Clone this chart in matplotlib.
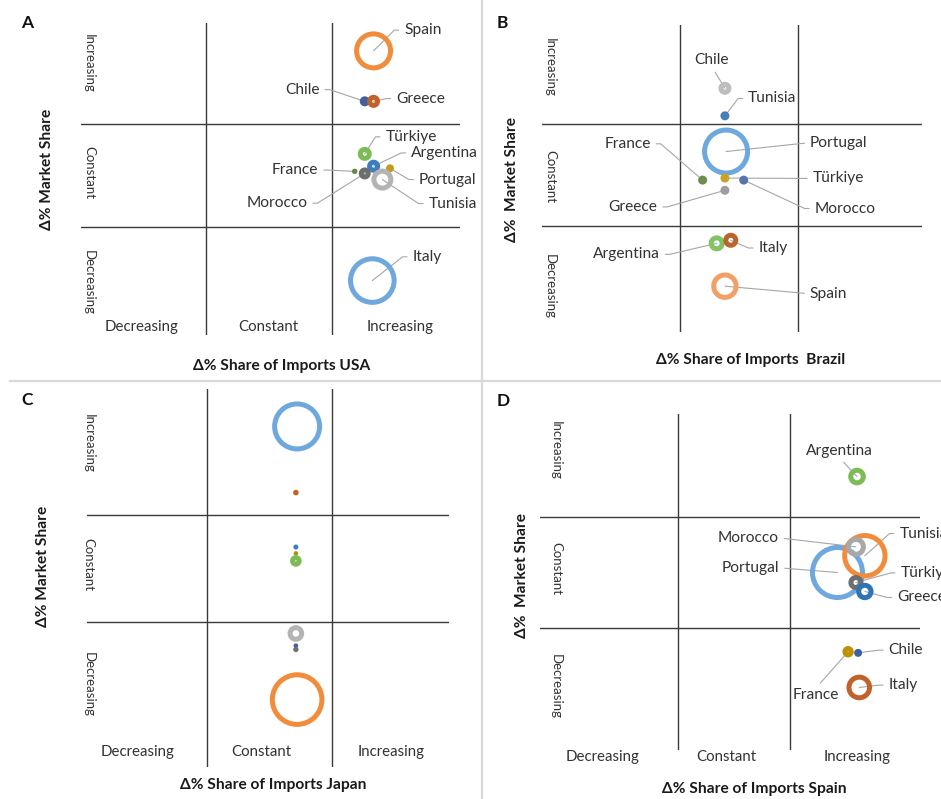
import math
import matplotlib
matplotlib.use('Agg')
import matplotlib.pyplot as plt

plt.rcParams['font.family'] = ['Lato', 'DejaVu Sans']

W, H = 941, 799

# ---------------- data (quadrant units: 0-1 decreasing, 1-2 constant, 2-3 increasing) ----------------
quad_labels = ['Decreasing', 'Constant', 'Increasing']

# Panel A – USA
usa_countries = ['Spain', 'Chile', 'Greece', 'Türkiye', 'Argentina', 'France', 'Morocco', 'Portugal', 'Tunisia', 'Italy']
usa_x = [2.33, 2.26, 2.33, 2.26, 2.33, 2.18, 2.26, 2.46, 2.40, 2.32]
usa_y = [2.71, 2.22, 2.22, 1.71, 1.59, 1.54, 1.52, 1.57, 1.46, 0.48]
usa_size = [19.5, 5.0, 6.5, 7.0, 6.5, 2.7, 6.0, 4.0, 11.0, 24.3]

# Panel B – Brazil
bra_countries = ['Chile', 'Tunisia', 'Portugal', 'France', 'Greece', 'Morocco', 'Türkiye', 'Argentina', 'Italy', 'Spain']
bra_x = [1.38, 1.38, 1.39, 1.19, 1.38, 1.54, 1.38, 1.31, 1.43, 1.38]
bra_y = [2.35, 2.08, 1.73, 1.45, 1.35, 1.45, 1.47, 0.83, 0.86, 0.41]
bra_size = [6.5, 4.5, 24.0, 4.5, 4.5, 4.5, 4.5, 8.0, 7.5, 13.7]

# Panel C – Japan (no data labels in the original)
jpn_countries = ['Italy', 'Greece', 'Argentina', 'Portugal', 'Türkiye', 'Tunisia', 'Chile', 'Morocco', 'Spain']
jpn_x = [1.72, 1.71, 1.71, 1.71, 1.71, 1.71, 1.71, 1.71, 1.72]
jpn_y = [2.83, 2.21, 1.70, 1.64, 1.57, 0.89, 0.775, 0.74, 0.27]
jpn_size = [25.0, 2.8, 2.5, 2.3, 5.8, 8.3, 2.3, 2.7, 27.3]

# Panel D – Spain
esp_countries = ['Argentina', 'Portugal', 'Tunisia', 'Morocco', 'Türkiye', 'Greece', 'France', 'Chile', 'Italy']
esp_x = [2.60, 2.425, 2.67, 2.59, 2.59, 2.67, 2.52, 2.61, 2.62]
esp_y = [2.36, 1.50, 1.65, 1.73, 1.41, 1.33, 0.79, 0.78, 0.47]
esp_size = [8.8, 27.5, 22.7, 10.0, 7.5, 8.7, 5.7, 4.0, 12.8]

# ---------------- styles ----------------
LBLUE, ORANGE, LGRAY = '#6FA8DC', '#F08C3C', '#B4B4B4'
colors = {
    'A': {'Spain': ORANGE, 'Chile': '#44609C', 'Greece': '#C0622A', 'Türkiye': '#7DBB55',
          'Argentina': '#3A7DC0', 'France': '#5F8A3F', 'Morocco': '#6E6E6E', 'Portugal': '#C49A1C',
          'Tunisia': LGRAY, 'Italy': LBLUE},
    'B': {'Chile': '#BDBDBD', 'Tunisia': '#4A7EBB', 'Portugal': LBLUE, 'France': '#6B8E4E',
          'Greece': '#9E9E9E', 'Morocco': '#5A73A8', 'Türkiye': '#C9A227', 'Argentina': '#85C165',
          'Italy': '#B8652E', 'Spain': '#F2A066'},
    'C': {'Italy': LBLUE, 'Greece': '#C0622A', 'Argentina': '#3A7DC0', 'Portugal': '#B8900F',
          'Türkiye': '#7DBB55', 'Tunisia': LGRAY, 'Chile': '#3F5F9E', 'Morocco': '#707070', 'Spain': ORANGE},
    'D': {'Argentina': '#7DBB55', 'Portugal': LBLUE, 'Tunisia': ORANGE, 'Morocco': '#A8A8A8',
          'Türkiye': '#6E6E6E', 'Greece': '#2E75B6', 'France': '#BF9000', 'Chile': '#3F5F9E', 'Italy': '#C0622A'},
}

# label layout: offset of text anchor from bubble (pixels, y up), alignment, leader style
label_layout = {
    'A': {'Spain': (30.7, 20.7, 'left', 'e'), 'Chile': (-45.3, 11.7, 'right', 'e'),
          'Greece': (22.7, 2.7, 'left', 'e'), 'Türkiye': (20.7, 17, 'left', 'e'),
          'Argentina': (37.7, 13.3, 'left', 'e'), 'France': (-36.3, 1.3, 'right', 'e'),
          'Morocco': (-57.3, -29.7, 'right', 'e'), 'Portugal': (29, -11.3, 'left', 'e'),
          'Tunisia': (46.3, -24, 'left', 'e'), 'Italy': (40.3, 23.7, 'left', 'e')},
    'B': {'Chile': (-13, 28.3, 'center', 'b'), 'Tunisia': (23.3, 17.4, 'left', 'e'),
          'Portugal': (84, 9, 'left', 's'), 'France': (-52, 36.3, 'right', 'e'),
          'Greece': (-67.7, -16.6, 'right', 'e'), 'Morocco': (71, -28.4, 'left', 'e'),
          'Türkiye': (87.7, -0.4, 'left', 's'), 'Argentina': (-57, -11, 'right', 'e'),
          'Italy': (27.6, -7.7, 'left', 'e'), 'Spain': (85, -7.6, 'left', 's')},
    'C': {},
    'D': {'Argentina': (-17.8, 26, 'center', 'b'), 'Portugal': (-58.2, 4.7, 'right', 's'),
          'Tunisia': (34.6, 22.2, 'left', 'e'), 'Morocco': (-77.2, 9, 'right', 's'),
          'Türkiye': (44.7, 9.6, 'left', 'e'), 'Greece': (32.3, -6, 'left', 'e'),
          'France': (-32.1, -43.3, 'center', 't'), 'Chile': (30.6, 2.7, 'left', 'e'),
          'Italy': (29.3, 2.3, 'left', 'e')},
}

# panel geometry in figure pixels: extents and quadrant line positions
geom = {
    'A': dict(L=81, R=460, T=23, B=335, x1=206, x2=332, yU=124, yL=227),
    'B': dict(L=541.7, R=922.3, T=25, B=332, x1=680.3, x2=797.7, yU=124, yL=226),
    'C': dict(L=86.7, R=449.3, T=389, B=766.7, x1=206.7, x2=332.3, yU=515, yL=621.7),
    'D': dict(L=540, R=920, T=413.5, B=750, x1=678.3, x2=790, yU=516.7, yL=628.3),
}
texts = {
    'A': dict(letter=(27, 23), ytitle=(46.7, 169, 'Δ% Market Share'),
              xtitle=(282, 365.7, 'Δ% Share of Imports USA'),
              ycats=(89, [63.5, 172.7, 282]), xcats=(327, [142, 268, 400])),
    'B': dict(letter=(502.3, 22.7), ytitle=(511.7, 180, 'Δ%  Market Share'),
              xtitle=(751, 360, 'Δ% Share of Imports  Brazil'),
              ycats=(550, [67.5, 177, 286]), xcats=None),
    'C': dict(letter=(26.7, 400), ytitle=(43.3, 566, 'Δ% Market Share'),
              xtitle=(272.8, 785, 'Δ% Share of Imports Japan'),
              ycats=(88.3, [443.7, 564.8, 684.5]), xcats=(752.3, [137.5, 261, 391])),
    'D': dict(letter=(503.3, 401), ytitle=(521.7, 575.8, 'Δ%  Market Share'),
              xtitle=(754.7, 789.3, 'Δ% Share of Imports Spain'),
              ycats=(556, [450.8, 568.8, 686.7]), xcats=(756.7, [602.5, 726.8, 857.3])),
}
panels = {
    'A': (usa_countries, usa_x, usa_y, usa_size),
    'B': (bra_countries, bra_x, bra_y, bra_size),
    'C': (jpn_countries, jpn_x, jpn_y, jpn_size),
    'D': (esp_countries, esp_x, esp_y, esp_size),
}

RING = 5.0          # ring thickness in px
PX2PT = 72 / 100.0
LABEL_FS = 11.2
TXT = '#333333'

fig = plt.figure(figsize=(W / 100, H / 100), dpi=100)


def ft(x, y, s, **kw):
    fig.text(x / W, 1 - y / H, s, **kw)


# panel separators
fig.add_artist(plt.Line2D([481.7 / W, 481.7 / W], [0, 1], color='#D9D9D9', lw=1.6))
fig.add_artist(plt.Line2D([10 / W, 1], [1 - 381 / H, 1 - 381 / H], color='#D9D9D9', lw=1.6))

for key in ['A', 'B', 'C', 'D']:
    g = geom[key]
    ux = g['x2'] - g['x1']
    uy = g['yL'] - g['yU']
    ax = fig.add_axes([g['L'] / W, 1 - g['B'] / H, (g['R'] - g['L']) / W, (g['B'] - g['T']) / H])
    ax.set_xlim(1 - (g['x1'] - g['L']) / ux, 2 + (g['R'] - g['x2']) / ux)
    ax.set_ylim(1 - (g['B'] - g['yL']) / uy, 2 + (g['yU'] - g['T']) / uy)
    ax.axis('off')
    for v in (1, 2):
        ax.axvline(v, color='#3A3A3A', lw=1.0, zorder=1)
        ax.axhline(v, color='#3A3A3A', lw=1.0, zorder=1)

    names, xs, ys, sizes = panels[key]
    for i, (n, x, y, r) in enumerate(zip(names, xs, ys, sizes)):
        c = colors[key][n]
        if r > RING + 0.3:
            d = (2 * r - RING) * PX2PT
            ax.scatter([x], [y], s=d ** 2, facecolors='none', edgecolors=c,
                       linewidths=RING * PX2PT, zorder=5 + i, clip_on=False)
        else:
            d = 2 * r * PX2PT
            ax.scatter([x], [y], s=d ** 2, facecolors=c, edgecolors='none',
                       linewidths=0, zorder=5 + i, clip_on=False)
        if n in label_layout[key]:
            dx, dy, ha, style = label_layout[key][n]
            if style == 'b':
                relpos, conn = (0.5, 0.0), 'arc3'
            elif style == 't':
                relpos, conn = (0.5, 1.0), 'arc3'
            else:
                relpos = (0.0, 0.5) if ha == 'left' else (1.0, 0.5)
                if style == 'e':
                    h = 10 if ha == 'left' else -10
                    ang = math.degrees(math.atan2(dy, dx - h))
                    conn = f'angle,angleA=0,angleB={ang:.2f},rad=0'
                else:
                    conn = 'arc3'
            ax.annotate(n, xy=(x, y), xytext=(dx, dy), textcoords='offset pixels',
                        ha=ha, va='center', fontsize=LABEL_FS, color=TXT, zorder=2,
                        annotation_clip=False,
                        arrowprops=dict(arrowstyle='-', color='#A6A6A6', lw=0.8,
                                        shrinkA=2, shrinkB=0, relpos=relpos,
                                        connectionstyle=conn))

    t = texts[key]
    ft(*t['letter'], key, fontsize=12.5, fontweight='bold', color='#111111', ha='center', va='center')
    yx, yy, ys_ = t['ytitle']
    ft(yx, yy, ys_, fontsize=11.2, fontweight='bold', color='#1A1A1A', rotation=90, ha='center', va='center')
    xx, xy_, xs_ = t['xtitle']
    ft(xx, xy_, xs_, fontsize=11.2, fontweight='bold', color='#1A1A1A', ha='center', va='center')
    cx, cys = t['ycats']
    for lab, cy in zip(reversed(quad_labels), cys):
        ft(cx, cy, lab, fontsize=9.5, color=TXT, rotation=270, ha='center', va='center')
    if t['xcats'] is not None:
        cy, cxs = t['xcats']
        for lab, cxx in zip(quad_labels, cxs):
            ft(cxx, cy, lab, fontsize=10.8, color=TXT, ha='center', va='center')

fig.savefig('out.png', dpi=100, facecolor='white')
